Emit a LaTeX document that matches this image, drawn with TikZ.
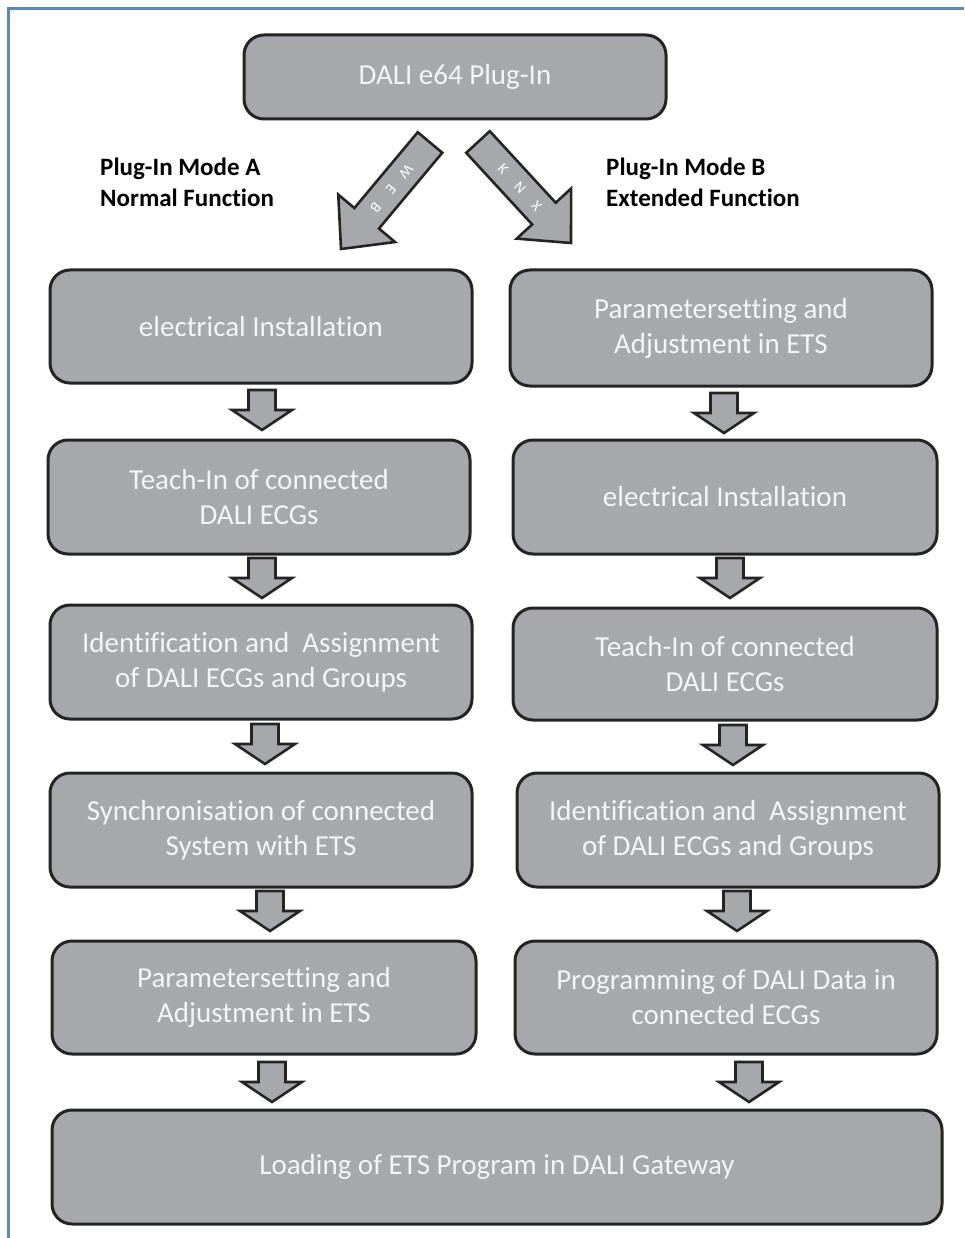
\documentclass[tikz,border=0pt]{standalone}
\usepackage{fontspec}
\setmainfont[Ligatures={NoCommon}]{Carlito}
\usetikzlibrary{calc}
\definecolor{boxfill}{HTML}{A7A8AC}
\definecolor{boxline}{HTML}{262324}
\definecolor{boxtext}{HTML}{F3F4F6}
\definecolor{framecol}{HTML}{5A86C2}
\tikzset{
  flowbox/.style={draw=boxline, fill=boxfill, line width=3pt, rounded corners=20pt,
    text=boxtext, font=\fontsize{29}{35}\selectfont, align=center, inner sep=0pt},
  arrowst/.style={draw=boxline, fill=boxfill, line width=2.6pt, line join=miter},
  modelabel/.style={font=\bfseries\fontsize{25}{31}\selectfont, align=left, anchor=west, inner sep=0pt, text=black},
  arrtext/.style={text=white, font=\fontsize{15}{15}\selectfont, inner sep=0pt}
}
% #1 tail, #2 tip, #3 shaft half width, #4 head half width, #5 head length, #6 name
\newcommand\blockarr[6]{%
  \coordinate (#6h) at ($(#2)!#5!(#1)$);
  \draw[arrowst] ($(#1)!#3!90:(#2)$) -- ($(#6h)!#3!90:(#2)$) -- ($(#6h)!#4!90:(#2)$)
     -- (#2) -- ($(#6h)!#4!-90:(#2)$) -- ($(#6h)!#3!-90:(#2)$) -- ($(#1)!#3!-90:(#2)$) -- cycle;
}
\newcommand\smallarr[3]{% name, x, top y
  \coordinate (#1t) at (#2,#3);
  \coordinate (#1p) at (#2,#3+40);
  \blockarr{#1t}{#1p}{13.5pt}{30pt}{20pt}{#1}
}
\begin{document}
\begin{tikzpicture}[x=1pt,y=-1pt]
\useasboundingbox (0,0) rectangle (964,1238);
% frame
\draw[framecol, line width=3pt] (8,1238) -- (8,9) -- (964,9);

% top box
\node[flowbox, minimum width=422pt, minimum height=84pt] (top) at (455,77) {DALI e64 Plug-In};

% mode labels
\node[modelabel] (modeA) at (100,182) {Plug-In Mode A\\Normal Function};
\node[modelabel] (modeB) at (606,182) {Plug-In Mode B\\Extended Function};

% big diagonal arrows
\coordinate (webT) at (430,142.5);
\coordinate (webP) at (341,249);
\blockarr{webT}{webP}{16pt}{37pt}{40pt}{web}
\node[arrtext, rotate=-130] (webW) at ($(webT)!0.27!(webP)$) {W};
\node[arrtext, rotate=-130] (webE) at ($(webT)!0.44!(webP)$) {E};
\node[arrtext, rotate=-130] (webB) at ($(webT)!0.61!(webP)$) {B};
\coordinate (knxT) at (478,142);
\coordinate (knxP) at (571,243);
\blockarr{knxT}{knxP}{16pt}{37pt}{40pt}{knx}
\node[arrtext, rotate=-47] (knxK) at ($(knxT)!0.27!(knxP)$) {K};
\node[arrtext, rotate=-47] (knxN) at ($(knxT)!0.45!(knxP)$) {N};
\node[arrtext, rotate=-47] (knxX) at ($(knxT)!0.63!(knxP)$) {X};

% left column
\node[flowbox, minimum width=422pt, minimum height=113pt] (L1) at (261,326.5) {electrical Installation};
\node[flowbox, minimum width=422pt, minimum height=114pt] (L2) at (259,497) {Teach-In of connected\\DALI ECGs};
\node[flowbox, minimum width=422pt, minimum height=114pt] (L3) at (261,662) {Identification and~ Assignment\\of DALI ECGs and Groups};
\node[flowbox, minimum width=422pt, minimum height=114pt] (L4) at (261,830) {Synchronisation of connected\\System with ETS};
\node[flowbox, minimum width=424pt, minimum height=113pt] (L5) at (264,997.5) {Parametersetting and\\Adjustment in ETS};

% right column
\node[flowbox, minimum width=422pt, minimum height=116pt] (R1) at (721,328) {Parametersetting and\\Adjustment in ETS};
\node[flowbox, minimum width=424pt, minimum height=114pt] (R2) at (725,497) {electrical Installation};
\node[flowbox, minimum width=424pt, minimum height=112pt] (R3) at (725,664) {Teach-In of connected\\DALI ECGs};
\node[flowbox, minimum width=422pt, minimum height=114pt] (R4) at (728,830) {Identification and~ Assignment\\of DALI ECGs and Groups};
\node[flowbox, minimum width=422pt, minimum height=113pt] (R5) at (726,997.5) {Programming of DALI Data in\\connected ECGs};

% bottom box
\node[flowbox, minimum width=890pt, minimum height=114pt] (bot) at (497,1167) {Loading of ETS Program in DALI Gateway};

% small down arrows
\smallarr{la}{262}{390}
\smallarr{lb}{262}{558}
\smallarr{lc}{265}{724}
\smallarr{ld}{270}{891}
\smallarr{le}{272}{1062}
\smallarr{ra}{724}{393}
\smallarr{rb}{730}{558}
\smallarr{rc}{733}{725}
\smallarr{rd}{737}{891}
\smallarr{re}{749}{1062}
\end{tikzpicture}
\end{document}
